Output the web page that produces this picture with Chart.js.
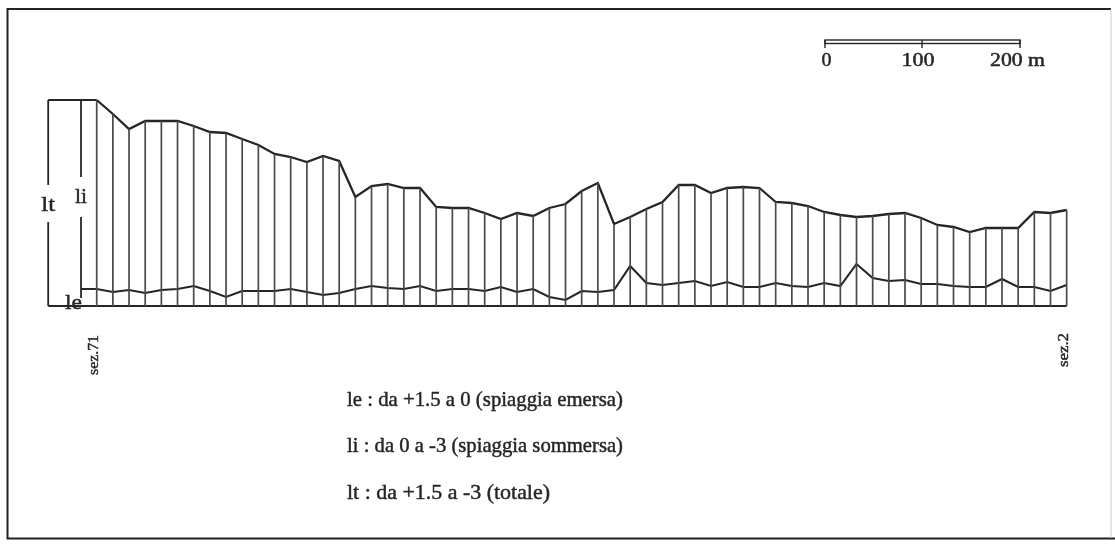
<!DOCTYPE html>
<html>
<head>
<meta charset="utf-8">
<script src="https://cdn.jsdelivr.net/npm/chart.js@4"></script>
<style>
  html, body { margin: 0; padding: 0; background: #fff; }
</style>
</head>
<body>
<canvas id="profilo" width="1115" height="545"></canvas>
<script>
// beach widths (m) per section, from sez.71 (left) to sez.2 (right)
const lt = [206, 192, 177, 185, 185, 185, 180, 174, 173, 167, 161, 152, 149, 144, 150, 145,
  109, 120, 122, 118, 118, 99, 98, 98, 93, 87, 93, 90, 98, 102, 115, 123, 82, 89, 97, 104,
  121, 121, 113, 118, 119, 118, 104, 103, 100, 94, 91, 89, 90, 92, 93, 88, 81, 79, 74, 78,
  78, 78, 94, 93, 96];
const le = [17, 14, 16, 13, 16, 17, 20, 15, 9, 15, 15, 15, 17, 14, 11, 13, 17, 20, 18, 17,
  20, 15, 17, 17, 15, 19, 14, 17, 9, 6, 15, 14, 16, 40, 23, 21, 23, 25, 20, 24, 19, 19, 23,
  20, 19, 23, 20, 42, 28, 25, 26, 22, 22, 20, 19, 19, 27, 19, 19, 15, 21];

const sectionLabels = ['sez.71', 'sez.2'];
const scaleTicks = ['0', '100', '200 m'];
const legendLines = [
  'le : da +1.5 a 0 (spiaggia emersa)',
  'li : da 0 a -3 (spiaggia sommersa)',
  'lt : da +1.5 a -3 (totale)'
];

const ink = '#262626';
const ltBarX = -3;     // position of the lt dimension bar, in section units
const liBarX = -0.97;  // position of the li dimension bar

// helper: serif text squeezed to a given width (the scan uses a narrow Garamond)
function fitText(ctx, text, x, y, w, size) {
  ctx.font = size + 'px "Liberation Serif"';
  const m = ctx.measureText(text).width;
  ctx.save();
  ctx.translate(x, y);
  ctx.scale(w / m, 1);
  ctx.fillText(text, 0, 0);
  ctx.lineWidth = 0.45;
  ctx.strokeText(text, 0, 0);   // a bit heavier, like the printed scan
  ctx.restore();
}

const sheet = {
  id: 'sheet',
  afterDraw(chart) {
    const ctx = chart.ctx;
    const xs = chart.scales.x;
    ctx.save();
    // frame
    ctx.strokeStyle = '#222';
    ctx.lineWidth = 2;
    ctx.beginPath();
    ctx.moveTo(1115, 538.5); ctx.lineTo(7.5, 538.5); ctx.lineTo(7.5, 9); ctx.lineTo(1111, 9);
    ctx.stroke();
    ctx.strokeStyle = '#ccc';
    ctx.lineWidth = 1;
    ctx.beginPath(); ctx.moveTo(1111, 9); ctx.lineTo(1111, 538); ctx.stroke();

    // scale bar 0-200 m
    ctx.strokeStyle = ink;
    ctx.lineWidth = 1.4;
    ctx.strokeRect(825, 40, 195, 3.5);
    ctx.beginPath();
    [825, 922, 1020].forEach(px => { ctx.moveTo(px, 40); ctx.lineTo(px, 48); });
    ctx.stroke();
    ctx.fillStyle = ink;
    ctx.textBaseline = 'alphabetic';
    ctx.textAlign = 'left';
    fitText(ctx, scaleTicks[0], 821.5, 66, 10, 18);
    fitText(ctx, scaleTicks[1], 901.5, 66, 33, 18);
    fitText(ctx, scaleTicks[2], 990, 66, 55, 18);

    // dimension labels
    fitText(ctx, 'lt', xs.getPixelForValue(ltBarX) - 7, 211, 14, 22);
    fitText(ctx, 'li', xs.getPixelForValue(liBarX) - 6, 203, 12, 22);
    fitText(ctx, 'le', 65, 309, 17, 22);

    // section names, rotated
    [[0, 93, 355, 40], [lt.length - 1, 1063, 350, 34]].forEach(([k, px, py, w], j) => {
      ctx.save();
      ctx.translate(px + (xs.getPixelForValue(k) - (j ? 1067 : 97)), py);
      ctx.rotate(-Math.PI / 2);
      fitText(ctx, sectionLabels[j], -w / 2, 5, w, 14);
      ctx.restore();
    });

    // legend
    fitText(ctx, legendLines[0], 347, 406, 276, 21);
    fitText(ctx, legendLines[1], 347, 452, 276, 21);
    fitText(ctx, legendLines[2], 347, 499, 203, 21);
    ctx.restore();
  }
};

const pts = arr => arr.map((v, i) => ({ x: i, y: v }));
const verticals = lt.flatMap((v, i) => [{ x: i, y: 0 }, { x: i, y: v }, { x: i, y: null }]);

const base = { pointRadius: 0, borderColor: ink, fill: false, tension: 0, spanGaps: false };

new Chart(document.getElementById('profilo'), {
  type: 'line',
  data: {
    datasets: [
      { ...base, label: 'sezioni', data: verticals, borderWidth: 1.7, borderColor: '#4a4a4a' },
      { ...base, label: 'lt', data: pts(lt), borderWidth: 2.3 },
      { ...base, label: 'le', data: [{ x: liBarX, y: le[0] }].concat(pts(le)), borderWidth: 2.1 },
      { ...base, label: 'base', data: [{ x: ltBarX, y: 0 }, { x: lt.length - 1, y: 0 }], borderWidth: 2 },
      { ...base, label: 'top', data: [{ x: ltBarX, y: lt[0] }, { x: 0, y: lt[0] }], borderWidth: 2 },
      { ...base, label: 'lt bar', borderWidth: 1.8,
        data: [{ x: ltBarX, y: 0 }, { x: ltBarX, y: 84 }, { x: ltBarX, y: null },
               { x: ltBarX, y: 121 }, { x: ltBarX, y: lt[0] }] },
      { ...base, label: 'li bar', borderWidth: 1.8,
        data: [{ x: liBarX, y: 8 }, { x: liBarX, y: 89 }, { x: liBarX, y: null },
               { x: liBarX, y: 129 }, { x: liBarX, y: lt[0] }] }
    ]
  },
  options: {
    responsive: false,
    animation: false,
    layout: { padding: 0 },
    scales: {
      x: { type: 'linear', min: -5.982, max: 62.99, display: false },
      y: { min: -239, max: 306, display: false }
    },
    plugins: { legend: { display: false }, tooltip: { enabled: false } }
  },
  plugins: [sheet]
});
</script>
</body>
</html>
